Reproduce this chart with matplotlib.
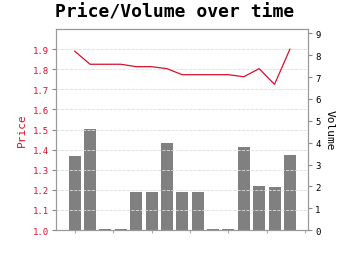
import numpy as np
import matplotlib
matplotlib.use("Agg")
import matplotlib.pyplot as plt

# values
price = [1.89, 1.825, 1.825, 1.825, 1.813, 1.813, 1.803, 1.773, 1.773,
         1.773, 1.773, 1.763, 1.803, 1.725, 1.90]
volume = [3.39, 4.64, 0.05, 0.05, 1.76, 1.76, 3.99, 1.72, 1.72,
          0.05, 0.05, 3.82, 2.03, 1.97, 3.45]
price_ticks = [1.0, 1.1, 1.2, 1.3, 1.4, 1.5, 1.6, 1.7, 1.8, 1.9]
volume_ticks = [0, 1, 2, 3, 4, 5, 6, 7, 8, 9]

RED = "#d8102a"
MONO = "DejaVu Sans Mono"

x = np.arange(len(price))

fig = plt.figure(figsize=(3.5, 2.55), dpi=100)
ax = fig.add_axes([0.159, 0.094, 0.722, 0.788])
ax2 = ax.twinx()

ax2.bar(x, volume, width=0.78, color="#808080", zorder=2)
ax.plot(x, price, color=RED, lw=0.9, zorder=3)

# price line on top of the bars
ax.set_zorder(ax2.get_zorder() + 1)
ax.patch.set_visible(False)

ax.set_xlim(-1.24, 15.2)
ax.set_ylim(1.0, 2.0)
ax2.set_ylim(0, 9.2)

ax.set_yticks(price_ticks)
ax.set_yticklabels([f"{v:.1f}" for v in price_ticks], color=RED,
                   fontsize=6.5, family=MONO)
ax2.set_yticks(volume_ticks)
ax2.set_yticklabels([str(v) for v in volume_ticks], fontsize=6.5, family=MONO)

ax.set_xticks(np.arange(0, 15.1, 2.5))
ax.set_xticklabels([])
ax.tick_params(axis="x", length=2.5, color="#aaaaaa")
ax.tick_params(axis="y", length=3, color="#888888", pad=2)
ax2.tick_params(axis="y", length=3, color="#888888", pad=2)

ax.grid(axis="y", color="#dddddd", ls="--", lw=0.6, zorder=0)
ax2.set_axisbelow(True)

for a in (ax, ax2):
    for s in a.spines.values():
        s.set_color("#999999")
        s.set_linewidth(0.8)

ax.set_ylabel("Price", color=RED, fontsize=8, family=MONO, labelpad=4)
ax2.set_ylabel("Volume", fontsize=8, family=MONO, rotation=270, labelpad=10)

fig.suptitle("Price/Volume over time", fontsize=13, fontweight="bold",
             family=MONO, y=0.985)

fig.savefig("out.png", dpi=100)
